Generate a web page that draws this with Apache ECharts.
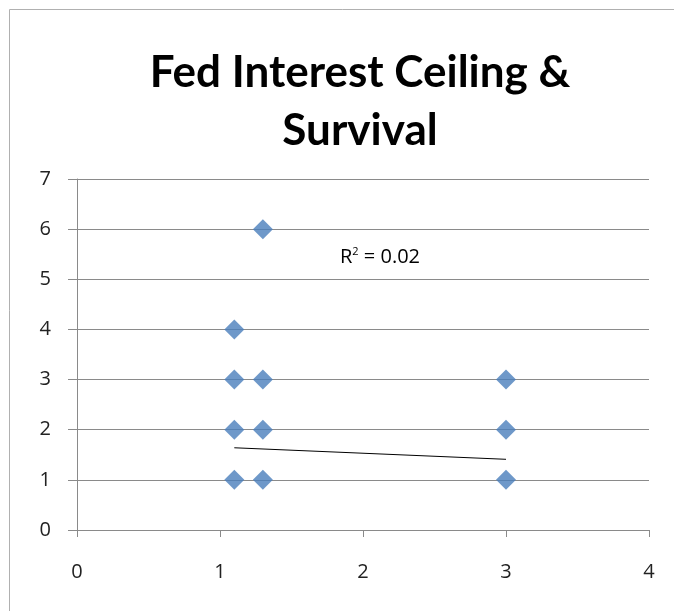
<!DOCTYPE html>
<html><head><meta charset="utf-8">
<script src="https://cdn.jsdelivr.net/npm/echarts@6/dist/echarts.min.js"></script>
<style>html,body{margin:0;padding:0;background:#fff}#c{width:674px;height:611px}</style>
</head><body><div id="c"></div>
<script>
const titleText = "Fed Interest Ceiling &\nSurvival";
const ceilingX = [1.1, 1.1, 1.1, 1.1, 1.3, 1.3, 1.3, 1.3, 3, 3, 3];
const survivalY = [1, 2, 3, 4, 1, 2, 3, 6, 1, 2, 3];
const trendX = [1.1, 3];
const trendY = [1.64, 1.41];
const r2Label = "0.02";
const xTicks = [0, 1, 2, 3, 4];
const yTicks = [0, 1, 2, 3, 4, 5, 6, 7];

const chart = echarts.init(document.getElementById('c'), null, {renderer: 'canvas'});
const axisColor = '#8a8a8a';
const labelFont = {color: '#222', fontSize: 20, fontFamily: 'Open Sans'};
chart.setOption({
  backgroundColor: '#fff',
  animation: false,
  title: {
    text: titleText,
    left: 355, top: 39, textAlign: 'center',
    textStyle: {fontFamily: 'Lato', fontWeight: 'bold', fontSize: 44, lineHeight: 58, color: '#000'}
  },
  grid: {left: 77, right: 25, top: 179, bottom: 81},
  xAxis: {
    type: 'value', min: xTicks[0], max: xTicks[xTicks.length - 1], interval: 1,
    axisLine: {show: true, onZero: false, lineStyle: {color: axisColor, width: 1}},
    axisTick: {show: true, inside: false, length: 7, lineStyle: {color: axisColor}},
    splitLine: {show: false},
    axisLabel: Object.assign({margin: 32}, labelFont)
  },
  yAxis: {
    type: 'value', min: yTicks[0], max: yTicks[yTicks.length - 1], interval: 1,
    axisLine: {show: true, onZero: false, lineStyle: {color: axisColor, width: 1}},
    axisTick: {show: true, inside: false, length: 9, lineStyle: {color: axisColor}},
    splitLine: {show: true, lineStyle: {color: axisColor, width: 1}},
    axisLabel: Object.assign({margin: 26}, labelFont)
  },
  series: [
    {
      type: 'scatter', symbol: 'diamond', symbolSize: 20,
      itemStyle: {color: '#4a7ebb'},
      data: ceilingX.map((x, i) => [x, survivalY[i]]),
      z: 3
    },
    {
      type: 'line', symbol: 'none', silent: true,
      lineStyle: {color: '#000', width: 1},
      data: trendX.map((x, i) => [x, trendY[i]]),
      z: 2
    }
  ],
  graphic: [
    {type: 'rect', shape: {x: 9.5, y: 9.5, width: 700, height: 700}, style: {fill: 'none', stroke: '#b0b0b0', lineWidth: 1}, silent: true, z: -1},
    {type: 'text', left: 340, top: 246, style: {
      text: '{r|R}{s|2}{r| = ' + r2Label + '}',
      rich: {r: {fontFamily: 'Open Sans', fontSize: 20, color: '#222', verticalAlign: 'bottom'},
             s: {fontFamily: 'Open Sans', fontSize: 11, color: '#222', verticalAlign: 'top', padding: [0, 0, 10, 0]}}
    }}
  ]
});
</script></body></html>
